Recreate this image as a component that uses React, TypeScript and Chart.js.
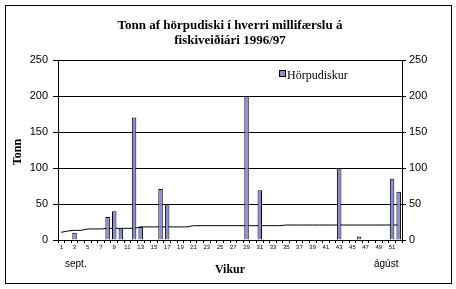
import React, { useEffect, useRef } from "react";
import { Chart, registerables } from "chart.js";

Chart.register(...registerables);

const weeks: string[] = Array.from({ length: 52 }, (_, i) => String(i + 1));

// Tonn per week (null = no transfer)
const scallopValues: (number | null)[] = [
  null, null, 10, null, null, null, null, 32, 40, 16,
  null, 170, 18, null, null, 71, 50, null, null, null,
  null, null, null, null, null, null, null, null, 200, null,
  69, null, null, null, null, null, null, null, null, null,
  null, null, 100, null, null, 5, null, null, null, null,
  85, 67,
];

const lineValues: number[] = [
  10.7, 12.5, 13.4, 13.4, 15.3, 15.3, 15.3, 16.2, 16.2, 16.2,
  16.2, 16.2, 18.2, 18.2, 18.2, 18.2, 18.2, 18.2, 18.2, 18.2,
  19.9, 19.9, 19.9, 19.9, 19.9, 19.9, 19.9, 19.9, 19.9, 19.9,
  19.9, 19.9, 19.9, 19.9, 20.8, 20.8, 20.8, 20.8, 20.8, 20.8,
  20.8, 20.8, 20.8, 20.8, 20.8, 20.8, 20.8, 20.8, 20.8, 20.8,
  20.8, 20.8,
];

const yTicks = [0, 50, 100, 150, 200, 250];

const titleLines = ["Tonn af hörpudiski í hverri millifærslu á", "fiskiveiðiári 1996/97"];
const seriesName = "Hörpudiskur";
const xTitle = "Vikur";
const yTitle = "Tonn";
const startLabel = "sept.";
const endLabel = "ágúst";

const BAR_COLOR = "#8c8cd2";

export default function App() {
  const ref = useRef<HTMLCanvasElement | null>(null);

  useEffect(() => {
    if (!ref.current) return;
    const decor = {
      id: "decor",
      beforeDraw(chart: any) {
        const ctx = chart.ctx;
        ctx.save();
        ctx.fillStyle = "#ffffff";
        ctx.fillRect(0, 0, chart.width, chart.height);
        ctx.restore();
      },
      afterDraw(chart: any) {
        const ctx = chart.ctx;
        ctx.save();
        // outer border
        ctx.strokeStyle = "#000";
        ctx.lineWidth = 1;
        ctx.strokeRect(5.5, 5.5, 446, 278);
        // title
        ctx.fillStyle = "#000";
        ctx.textAlign = "center";
        ctx.textBaseline = "middle";
        ctx.font = "bold 13px 'Liberation Serif', serif";
        ctx.fillText(titleLines[0], 230, 26);
        ctx.fillText(titleLines[1], 230, 41);
        // x title
        ctx.font = "bold 12px 'Liberation Serif', serif";
        ctx.fillText(xTitle, 230, 270);
        // y title
        ctx.save();
        ctx.translate(18, 152);
        ctx.rotate(-Math.PI / 2);
        ctx.fillText(yTitle, 0, 0);
        ctx.restore();
        // sept / ágúst
        ctx.font = "10px 'Liberation Sans', Arial, sans-serif";
        ctx.textAlign = "left";
        ctx.fillText(startLabel, 65, 264);
        ctx.fillText(endLabel, 374, 264);
        // legend
        ctx.fillStyle = BAR_COLOR;
        ctx.fillRect(279.5, 70.5, 6, 6);
        ctx.strokeRect(279.5, 70.5, 6, 6);
        ctx.fillStyle = "#000";
        ctx.font = "12px 'Liberation Serif', serif";
        ctx.textBaseline = "middle";
        ctx.fillText(seriesName, 287, 76);
        ctx.restore();
      },
    };

    const chart = new Chart(ref.current, {
      type: "bar",
      data: {
        labels: weeks,
        datasets: [
          {
            type: "bar",
            label: seriesName,
            data: scallopValues,
            backgroundColor: BAR_COLOR,
            borderColor: "#000",
            borderWidth: 1,
            barPercentage: 1,
            categoryPercentage: 0.68,
            order: 0,
            yAxisID: "y",
          },
          {
            type: "line",
            label: "",
            data: lineValues,
            borderColor: "#000",
            borderWidth: 1,
            pointRadius: 0,
            tension: 0,
            fill: false,
            order: 1,
            yAxisID: "y",
          },
        ],
      } as any,
      plugins: [decor],
      options: {
        animation: false,
        responsive: false,
        devicePixelRatio: 1,
        layout: { padding: { top: 60, left: 0, right: 0, bottom: 0 } },
        plugins: {
          legend: { display: false },
          title: { display: false },
          tooltip: { enabled: false },
        },
        scales: {
          x: {
            type: "category",
            offset: true,
            grid: {
              offset: true,
              drawOnChartArea: false,
              drawTicks: true,
              tickLength: 3,
              color: "#000",
            },
            border: { display: true, color: "#000" },
            ticks: {
              autoSkip: false,
              maxRotation: 0,
              minRotation: 0,
              padding: 1,
              color: "#000",
              font: { size: 6, family: "'Liberation Sans', Arial, sans-serif" },
              callback: (_v: any, i: number) => (i % 2 === 0 ? weeks[i] : ""),
            },
            afterFit: (s: any) => {
              s.height = 49;
            },
          },
          y: {
            position: "left",
            min: 0,
            max: 250,
            afterBuildTicks: (s: any) => {
              s.ticks = yTicks.map((v) => ({ value: v }));
            },
            grid: { color: "#000", tickLength: 5, lineWidth: 1 },
            border: { display: true, color: "#000" },
            ticks: {
              padding: 5,
              color: "#000",
              font: { size: 11, family: "'Liberation Sans', Arial, sans-serif" },
            },
            afterFit: (s: any) => {
              s.width = 58;
            },
          },
          y2: {
            position: "right",
            min: 0,
            max: 250,
            afterBuildTicks: (s: any) => {
              s.ticks = yTicks.map((v) => ({ value: v }));
            },
            grid: { drawOnChartArea: false, color: "#000", tickLength: 4 },
            border: { display: true, color: "#000" },
            ticks: {
              padding: 3,
              color: "#000",
              font: { size: 11, family: "'Liberation Sans', Arial, sans-serif" },
            },
            afterFit: (s: any) => {
              s.width = 54;
            },
          },
        },
      } as any,
    });
    return () => chart.destroy();
  }, []);

  return (
    <div style={{ position: "absolute", left: 0, top: 0, width: 456, height: 289 }}>
      <canvas ref={ref} width={456} height={289} style={{ display: "block" }} />
    </div>
  );
}
